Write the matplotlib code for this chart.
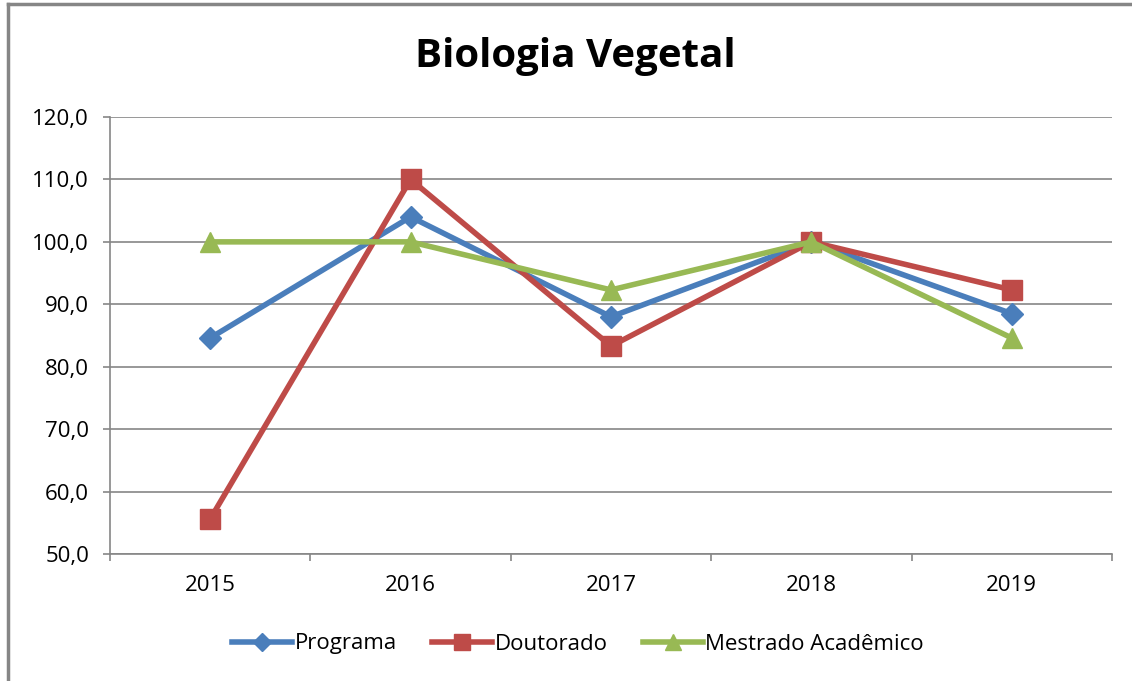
import matplotlib.pyplot as plt
from matplotlib.lines import Line2D
from matplotlib.ticker import FixedLocator

plt.rcParams['font.family'] = ['Open Sans', 'DejaVu Sans']

anos = ['2015', '2016', '2017', '2018', '2019']
programa = [84.6, 104.0, 88.0, 100.0, 88.5]
doutorado = [55.6, 110.0, 83.3, 100.0, 92.3]
mestrado = [100.0, 100.0, 92.3, 100.0, 84.6]
yticks = [50, 60, 70, 80, 90, 100, 110, 120]

fig = plt.figure(figsize=(11.32, 6.81), dpi=100)
ax = fig.add_axes([110 / 1132, 1 - 554 / 681, 1002 / 1132, 437 / 681])

x = list(range(len(anos)))
ax.plot(x, programa, color='#4a7ebb', lw=4, marker='D', ms=11, label='Programa')
ax.plot(x, doutorado, color='#be4b48', lw=4, marker='s', ms=14, label='Doutorado')
ax.plot(x, mestrado, color='#98b954', lw=4, marker='^', ms=14, label='Mestrado Acadêmico')

ax.set_xlim(-0.5, len(anos) - 0.5)
ax.set_ylim(50, 120)
ax.set_yticks(yticks)
ax.set_yticklabels([f'{v:.1f}'.replace('.', ',') for v in yticks])
ax.set_xticks(x)
ax.set_xticklabels(anos)
ax.xaxis.set_minor_locator(FixedLocator([i - 0.5 for i in range(len(anos) + 1)]))
ax.tick_params(axis='x', which='major', length=0, pad=15, labelsize=16)
ax.tick_params(axis='x', which='minor', length=5, color='#868686', width=1.2)
ax.tick_params(axis='y', length=5, color='#868686', width=1.2, pad=10, labelsize=16)
ax.grid(axis='y', color='#868686', lw=1.2)
ax.set_axisbelow(True)
for s in ['top', 'right']:
    ax.spines[s].set_visible(False)
for s in ['left', 'bottom']:
    ax.spines[s].set_color('#868686')
    ax.spines[s].set_linewidth(1.2)

fig.text(575 / 1132, 1 - 56 / 681, 'Biologia Vegetal', ha='center', va='center',
         fontsize=29, fontweight='bold')

fig.legend(loc='center', bbox_to_anchor=(578 / 1132, 1 - 644 / 681), ncol=3,
           frameon=False, fontsize=16, handlelength=2.7, columnspacing=1.6,
           handletextpad=0.1, markerscale=0.85)

# outer frame of the chart
fig.add_artist(Line2D([8 / 1132, 8 / 1132], [0, 1 - 4 / 681], color='#868686', lw=2.5))
fig.add_artist(Line2D([8 / 1132, 1], [1 - 4 / 681, 1 - 4 / 681], color='#868686', lw=2.5))

fig.savefig('out.png', dpi=100)
